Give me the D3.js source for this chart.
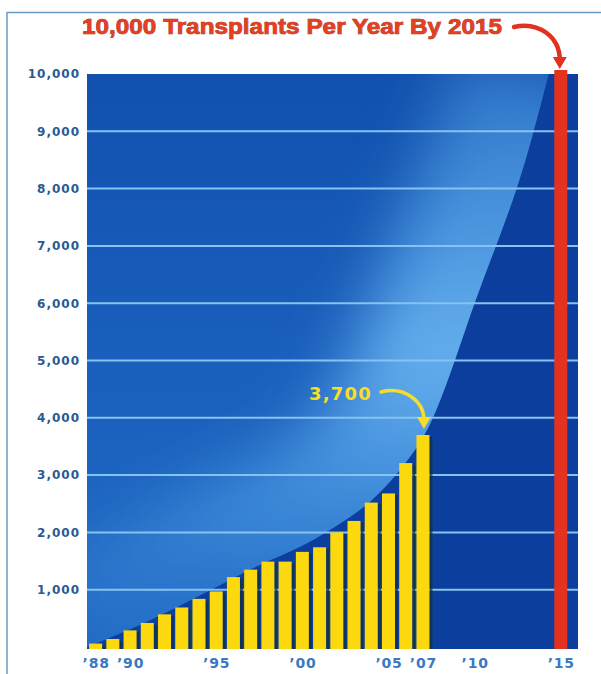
<!DOCTYPE html>
<html>
<head>
<meta charset="utf-8">
<script src="https://cdn.jsdelivr.net/npm/d3@7"></script>
<style>
  body { margin: 0; background: #fff; }
  svg { display: block; }
</style>
</head>
<body>
<div class="visual"></div>
<script>
const width = 601;
const height = 674;

// data
const years = [1988, 1989, 1990, 1991, 1992, 1993, 1994, 1995, 1996, 1997,
  1998, 1999, 2000, 2001, 2002, 2003, 2004, 2005, 2006, 2007];
const transplants = [60, 140, 290, 420, 570, 690, 840, 970, 1220, 1350,
  1490, 1490, 1660, 1740, 2000, 2200, 2520, 2680, 3210, 3700];
const goalYear = 2015;
const goalValue = 10000;
const yTicks = [1000, 2000, 3000, 4000, 5000, 6000, 7000, 8000, 9000, 10000];
const xTicks = [1988, 1990, 1995, 2000, 2005, 2007, 2010, 2015];
// edge of the light "growth" shape behind the bars
const glowYears = [1987.5, 1991, 1994.5, 1997.5, 2000, 2002.6, 2004.5, 2006.8, 2007.8, 2008.9, 2010, 2011.3, 2012.5, 2013.4, 2014.3];
const glowValues = [0, 430, 960, 1450, 1740, 2220, 2650, 3500, 4120, 5030, 6030, 7040, 8020, 8950, 10000];

const title = "10,000 Transplants Per Year By 2015";
const callout = "3,700";

const svg = d3
  .select(".visual")
  .append("svg")
  .attr("width", width)
  .attr("height", height);

const x = d3.scaleLinear().domain([1987.5, 2016]).range([87, 578]);
const y = d3.scaleLinear().domain([0, 10000]).range([647, 74]);
const barW = 13;

const glow = glowYears.map((yr, i) => ({ year: yr, value: glowValues[i] }));
const glowArea = d3.area()
  .x((d) => x(d.year))
  .y0(y(10000))
  .y1((d) => y(d.value))
  .curve(d3.curveBasis);
const glowEdge = d3.line()
  .x((d) => x(d.year))
  .y((d) => y(d.value))
  .curve(d3.curveBasis);

const defs = svg.append("defs");
defs.append("clipPath").attr("id", "glowClip")
  .append("path").datum(glow).attr("d", glowArea);

const base = defs.append("linearGradient")
  .attr("id", "base")
  .attr("gradientUnits", "userSpaceOnUse")
  .attr("x1", 0).attr("y1", y(10000))
  .attr("x2", 0).attr("y2", y(0));
[[0, "#1150ae"], [0.5, "#1a5fbc"], [1, "#1f69c4"]]
  .forEach(([o, c]) => base.append("stop").attr("offset", o).attr("stop-color", c));

const edge = defs.append("linearGradient")
  .attr("id", "edge")
  .attr("gradientUnits", "userSpaceOnUse")
  .attr("x1", 0).attr("y1", y(10000))
  .attr("x2", 0).attr("y2", y(0));
[[0, "#4f9ee6", 0.5], [0.5, "#66b0ee", 1], [0.75, "#4f9ee6", 0.65], [1, "#3b8ad8", 0.1]]
  .forEach(([o, c, a]) => edge.append("stop").attr("offset", o).attr("stop-color", c).attr("stop-opacity", a));

defs.append("filter").attr("id", "blur")
  .attr("x", "-50%").attr("y", "-50%").attr("width", "200%").attr("height", "200%")
  .append("feGaussianBlur").attr("stdDeviation", 32);

// frame
svg.append("line").attr("x1", 7).attr("x2", width).attr("y1", 12.5).attr("y2", 12.5)
  .attr("stroke", "#6b9bc2").attr("stroke-width", 1.5);
svg.append("line").attr("x1", 7).attr("x2", 7).attr("y1", 12).attr("y2", height)
  .attr("stroke", "#6b9bc2").attr("stroke-width", 1.5);

// plot background
svg.append("rect")
  .attr("x", x.range()[0])
  .attr("y", y(10000))
  .attr("width", x.range()[1] - x.range()[0])
  .attr("height", y(0) - y(10000) + 2)
  .attr("fill", "#0c3f9d");

const glowG = svg.append("g").attr("clip-path", "url(#glowClip)");
glowG.append("rect")
  .attr("x", x.range()[0])
  .attr("y", y(10000))
  .attr("width", x.range()[1] - x.range()[0])
  .attr("height", y(0) - y(10000))
  .attr("fill", "url(#base)");
glowG.append("path")
  .datum(glow)
  .attr("d", glowEdge)
  .attr("fill", "none")
  .attr("stroke", "url(#edge)")
  .attr("stroke-width", 190)
  .attr("filter", "url(#blur)");

// grid lines
svg.append("g")
  .selectAll("line")
  .data(yTicks.filter((d) => d < 10000))
  .enter()
  .append("line")
  .attr("x1", x.range()[0])
  .attr("x2", x.range()[1])
  .attr("y1", (d) => y(d))
  .attr("y2", (d) => y(d))
  .attr("stroke", "#86c3f0")
  .attr("stroke-width", 2);

// bars with a dark shadow on the right
const data = years.map((yr, i) => ({ year: yr, value: transplants[i] }));
svg.append("g")
  .selectAll("rect")
  .data(data)
  .enter()
  .append("rect")
  .attr("x", (d) => x(d.year) + barW / 2)
  .attr("y", (d) => y(d.value) + 2)
  .attr("width", 3)
  .attr("height", (d) => y(0) + 2 - y(d.value) - 2)
  .attr("fill", "#13303f")
  .attr("opacity", 0.75);

svg.append("g")
  .selectAll("rect")
  .data(data)
  .enter()
  .append("rect")
  .attr("x", (d) => x(d.year) - barW / 2)
  .attr("y", (d) => y(d.value))
  .attr("width", barW)
  .attr("height", (d) => y(0) + 2 - y(d.value))
  .attr("fill", "#fbd90e");

// goal bar
svg.append("rect")
  .attr("x", x(goalYear) - barW / 2)
  .attr("y", y(goalValue) - 4)
  .attr("width", barW)
  .attr("height", y(0) + 2 - y(goalValue) + 4)
  .attr("fill", "#e5321f");

// axes
const yAxis = svg.append("g")
  .attr("transform", `translate(${x.range()[0]},0)`)
  .call(d3.axisLeft(y).tickValues(yTicks).tickSize(0).tickPadding(7).tickFormat(d3.format(",")));
yAxis.select(".domain").remove();
yAxis.selectAll("text")
  .attr("fill", "#295a92")
  .style("font-family", "DejaVu Sans")
  .style("font-weight", "bold")
  .style("font-size", "12px")
  .style("letter-spacing", "1px");

const xAxis = svg.append("g")
  .attr("transform", `translate(0,${y(0) + 2})`)
  .call(d3.axisBottom(x).tickValues(xTicks).tickSize(0).tickPadding(9)
    .tickFormat((d) => "\u2019" + String(d).slice(2)));
xAxis.select(".domain").remove();
xAxis.selectAll("text")
  .attr("fill", "#3a79c2")
  .style("font-family", "DejaVu Sans")
  .style("font-weight", "bold")
  .style("font-size", "14px")
  .style("letter-spacing", "0.8px");

// title and arrow to the goal bar
svg.append("text")
  .attr("x", 82)
  .attr("y", 34)
  .attr("textLength", 420)
  .attr("lengthAdjust", "spacingAndGlyphs")
  .attr("fill", "#e4401f")
  .attr("stroke", "#9b2410")
  .attr("stroke-width", 0.7)
  .style("paint-order", "stroke")
  .style("font-family", "Liberation Sans")
  .style("font-weight", "bold")
  .style("font-size", "22px")
  .text(title);

function arrow(x0, y0, x1, y1, color, w) {
  const tipX = x1, tipY = y1;
  svg.append("path")
    .attr("d", `M${x0},${y0} C${x0 + (tipX - x0) * 0.55},${y0 - 6} ${tipX},${y0 + (tipY - y0) * 0.25} ${tipX},${tipY - 9}`)
    .attr("fill", "none")
    .attr("stroke", color)
    .attr("stroke-width", w)
    .attr("stroke-linecap", "round");
  svg.append("path")
    .attr("d", `M${tipX - 7},${tipY - 12} L${tipX + 7},${tipY - 12} L${tipX},${tipY} Z`)
    .attr("fill", color);
}

arrow(514, 27, x(goalYear) - 1, y(goalValue) - 5, "#e0321d", 4.5);

// 3,700 callout
svg.append("text")
  .attr("x", 309)
  .attr("y", 400)
  .attr("fill", "#f8dc2a")
  .style("font-family", "DejaVu Sans")
  .style("font-weight", "bold")
  .style("font-size", "18px")
  .style("letter-spacing", "1.2px")
  .text(callout);

arrow(381, 392, x(2007) + 1, y(3700) - 6, "#f8dc2a", 3.5);
</script>
</body>
</html>
